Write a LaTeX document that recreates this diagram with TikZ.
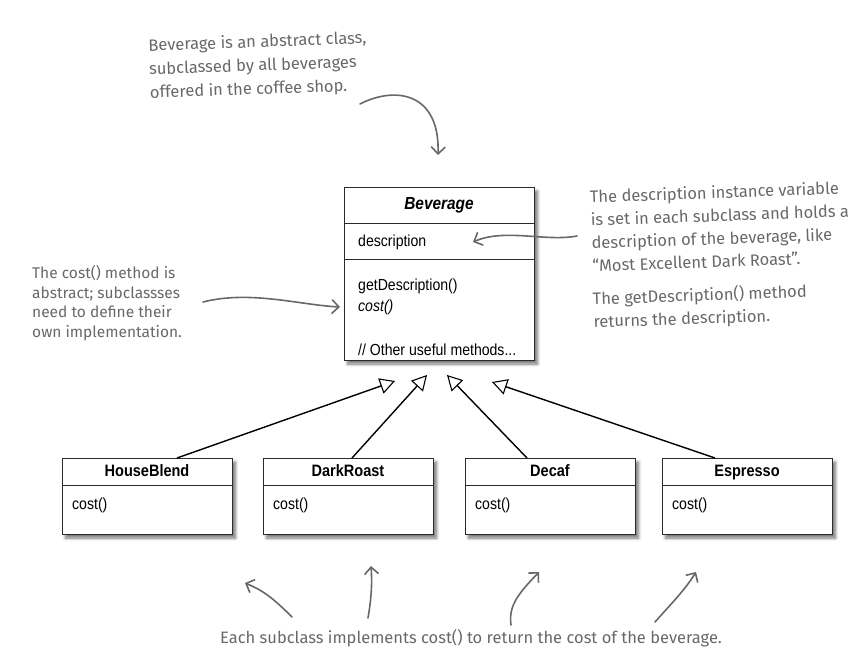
\documentclass[tikz,border=0pt]{standalone}
\usepackage{fontspec}
\setmainfont{Liberation Sans}
\newfontfamily\umlfont[FakeStretch=0.88]{Liberation Sans}
\newfontfamily\handfont{Fira Sans}
\usetikzlibrary{arrows.meta,shadows.blur,calc}
\definecolor{handgray}{HTML}{686868}
\definecolor{umlline}{HTML}{2A2A2A}
\begin{document}
\begin{tikzpicture}[x=1pt,y=-1pt,
  umlbox/.style={draw=umlline, line width=0.9pt, fill=white, inner sep=0pt, outer sep=0pt, anchor=north west,
    blur shadow={shadow xshift=3.5pt, shadow yshift=-4pt, shadow blur steps=8, shadow blur radius=3pt, shadow opacity=55}},
  umltext/.style={font=\umlfont\fontsize{16}{18}\selectfont, text=black, inner sep=0pt, text height=12pt, text depth=3.5pt},
  umlhead/.style={text=black, inner sep=0pt, text height=12pt, text depth=3.5pt, font=\umlfont\fontsize{16.5}{18}\selectfont\bfseries},
  sepline/.style={draw=umlline, line width=0.9pt},
  inherit/.style={draw=black, line width=1.4pt, -{Triangle[open, length=15pt, width=16pt, line width=1.1pt]}},
  note/.style={font=\handfont\fontsize{16.5}{23.5}\selectfont, text=handgray, align=left, inner sep=0pt},
  notearrow/.style={draw=handgray, line width=1.6pt, line cap=round, line join=round,
    -{Straight Barb[length=7pt, width=14pt, line width=1.6pt]}}
]
\useasboundingbox (0,0) rectangle (863,664);

% Beverage class
\node[umlbox, minimum width=190pt, minimum height=173pt] (bev) at (344,187) {};
\draw[sepline] ([yshift=-36pt]bev.north west) -- ([yshift=-36pt]bev.north east);
\draw[sepline] ([yshift=-72pt]bev.north west) -- ([yshift=-72pt]bev.north east);
\node[umlhead, font=\umlfont\fontsize{17.5}{18}\selectfont\bfseries\itshape] (bevname) at (439,205) {Beverage};
\node[umltext, anchor=west] (bevdesc) at (358,242) {description};
\node[umltext, anchor=west] (bevget) at (358,286) {getDescription()};
\node[umltext, anchor=west, font=\umlfont\fontsize{16}{18}\selectfont\itshape] (bevcost) at (358,307) {cost()};
\node[umltext, anchor=west] (bevother) at (358,351) {// Other useful methods...};

% Subclasses
\foreach \nm/\lbl/\xx in {hb/HouseBlend/62, dr/DarkRoast/263, de/Decaf/465, es/Espresso/662}{
  \node[umlbox, minimum width=170pt, minimum height=76pt] (\nm) at (\xx,458) {};
  \draw[sepline] ([yshift=-27pt]\nm.north west) -- ([yshift=-27pt]\nm.north east);
  \node[umlhead] (\nm-name) at ($(\nm.north)+(0,14)$) {\lbl};
  \node[umltext, anchor=west] (\nm-cost) at ($(\nm.north west)+(10,47)$) {cost()};
}

% Inheritance arrows
\draw[inherit] ($(hb.north west)+(115,0)$) -- ($(bev.south west)+(51,21)$);
\draw[inherit] ($(dr.north west)+(89,0)$) -- ($(bev.south west)+(83,15)$);
\draw[inherit] ($(de.north west)+(62,0)$) -- ($(bev.south west)+(103,15)$);
\draw[inherit] ($(es.north west)+(53,0)$) -- ($(bev.south west)+(148,22)$);

% Annotations
\node[note, rotate=2, anchor=west] (ntop) at (149,70) {Beverage is an abstract class,\\subclassed by all beverages\\offered in the coffee shop.};
\coordinate (a1s) at (360,104);
\coordinate (a1e) at (438,155);
\draw[notearrow] (a1s) .. controls (395,86) and (440,92) .. (a1e);

\node[note, font=\handfont\fontsize{16.5}{23}\selectfont, rotate=2, anchor=west] (nright) at (591,231) {The description instance variable\\is set in each subclass and holds a\\description of the beverage, like\\“Most Excellent Dark Roast”.};
\node[note, font=\handfont\fontsize{16.5}{23}\selectfont, rotate=2, anchor=west] (nright2) at (593,311) {The getDescription() method\\returns the description.};
\coordinate (a2s) at (577,236);
\coordinate (a2e) at (473,242);
\draw[notearrow] (a2s) .. controls (545,242) and (505,228) .. (a2e);

\node[note, font=\handfont\fontsize{15.5}{19.5}\selectfont, anchor=west] (nleft) at (32,303) {The cost() method is\\abstract; subclassses\\need to define their\\own implementation.};
\coordinate (a3s) at (203,302);
\coordinate (a3e) at (340,307);
\draw[notearrow] (a3s) .. controls (250,290) and (300,305) .. (a3e);

\node[note, anchor=west] (nbottom) at (220,638) {Each subclass implements cost() to return the cost of the beverage.};
\coordinate (b1s) at (292,617); \coordinate (b1e) at (245,583);
\coordinate (b2s) at (368,618); \coordinate (b2e) at (371,566);
\coordinate (b3s) at (511,625); \coordinate (b3e) at (539,572);
\coordinate (b4s) at (655,622); \coordinate (b4e) at (696,572);
\draw[notearrow] (b1s) .. controls (272,597) and (262,590) .. (b1e);
\draw[notearrow] (b2s) .. controls (372,595) and (372,580) .. (b2e);
\draw[notearrow] (b3s) .. controls (508,605) and (520,592) .. (b3e);
\draw[notearrow] (b4s) .. controls (670,605) and (685,590) .. (b4e);
\end{tikzpicture}
\end{document}
